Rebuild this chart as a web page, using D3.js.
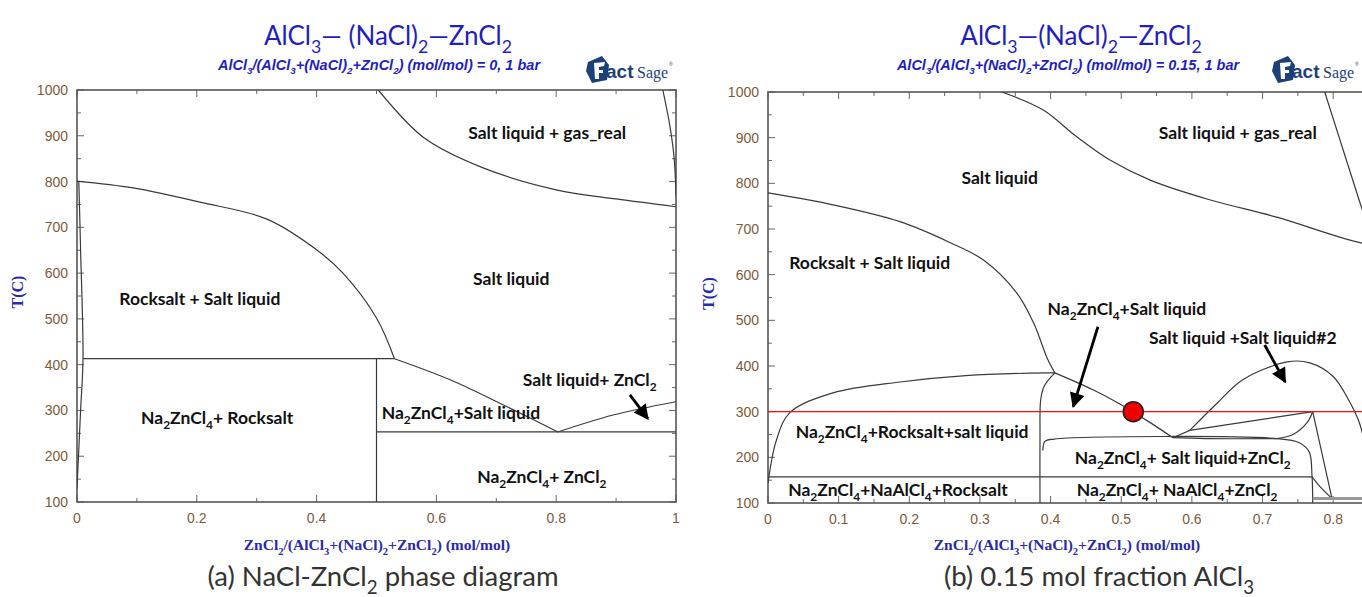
<!DOCTYPE html>
<html>
<head>
<meta charset="utf-8">
<script src="https://cdn.jsdelivr.net/npm/d3@7"></script>
<style>
  body { margin: 0; background: #fff; }
  svg { display: block; }
</style>
</head>
<body>
<svg id="chart" width="1362" height="597"></svg>
<script>
// ---- data: phase boundaries as [ZnCl2 fraction, T(C)] ----

// (a) NaCl-ZnCl2, AlCl3 = 0
const leftLiquidusNaCl = [[0, 801], [0.094, 786], [0.205, 755], [0.317, 718], [0.40, 651], [0.444, 600], [0.50, 502], [0.53, 413]];
const leftLiquidusNa2ZnCl4 = [[0.53, 413], [0.623, 367], [0.718, 308], [0.803, 253]];
const leftLiquidusZnCl2 = [[0.803, 253], [0.895, 290], [1, 319]];
const leftGasBoundary = [[0.503, 1000], [0.578, 897], [0.678, 830], [0.80, 782], [0.9, 762], [1, 745]];
const leftGasEdge = [[0.978, 1000], [0.99, 920], [0.997, 850], [1, 770]];
const leftSolvus = [[0.003, 801], [0.006, 650], [0.01, 413], [0.006, 300], [0, 130]];
const leftEutectic = [[0.01, 413], [0.53, 413]];
const leftCompound = [[0.5, 413], [0.5, 100]];
const leftEutectic2 = [[0.5, 253], [1, 253]];

// (b) AlCl3 = 0.15
const rightLiquidusNaCl = [[0, 779], [0.092, 753], [0.187, 716], [0.258, 670], [0.305, 632], [0.352, 560], [0.376, 494], [0.396, 414], [0.406, 385]];
const rightSolvus = [[0, 144], [0.012, 238], [0.031, 298], [0.092, 341], [0.187, 365], [0.28, 379], [0.395, 385], [0.406, 385]];
const rightLiquidusNa2ZnCl4 = [[0.406, 385], [0.46, 348], [0.498, 317], [0.541, 276], [0.573, 243]];
const rightCompoundEdge = [[0.406, 385], [0.391, 356], [0.386, 326], [0.385, 250], [0.385, 100]];
const rightInnerBox = [[0.389, 215], [0.392, 235], [0.405, 240], [0.72, 241], [0.752, 232], [0.766, 212], [0.770, 160], [0.771, 100]];
const rightBoxTail = [[0.770, 157], [0.78, 138], [0.798, 110]];
const rightEutecticLow = [[0, 157], [0.77, 157]];
const rightWedge = [[0.573, 243], [0.597, 259], [0.771, 300]];
const rightBoxTopLeft = [[0.573, 243], [0.62, 241], [0.72, 241]];
const rightWedgeCurve = [[0.771, 300], [0.763, 276], [0.743, 250], [0.72, 241]];
const rightPeritectic = [[0.771, 300], [0.798, 112]];
const rightMiscGap = [[0.597, 259], [0.636, 319], [0.672, 370], [0.735, 409], [0.767, 407], [0.80, 377], [0.822, 325], [0.836, 280], [0.843, 240], [0.846, 180], [0.847, 100]];
const rightBottomBand = [[0.771, 110], [0.9, 110]];
const rightGasBoundary = [[0.331, 1000], [0.389, 961], [0.437, 902], [0.484, 851], [0.541, 807], [0.625, 764], [0.72, 726], [0.838, 670], [0.95, 640]];
const rightGasEdge = [[0.788, 1000], [0.838, 757], [0.87, 610]];
const isotherm = 300;
const markerPoint = [0.517, 300];

// region labels: [x, T, text]
const leftLabels = [
  [0.785, 906, "Salt liquid + gas_real"],
  [0.725, 587, "Salt liquid"],
  [0.205, 544, "Rocksalt + Salt liquid"],
  [0.234, 284, "Na_2ZnCl_4+ Rocksalt"],
  [0.641, 295, "Na_2ZnCl_4+Salt liquid"],
  [0.856, 367, "Salt liquid+ ZnCl_2"],
  [0.776, 155, "Na_2ZnCl_4+ ZnCl_2"]
];
const rightLabels = [
  [0.328, 812, "Salt liquid"],
  [0.665, 910, "Salt liquid + gas_real"],
  [0.144, 626, "Rocksalt + Salt liquid"],
  [0.508, 525, "Na_2ZnCl_4+Salt liquid"],
  [0.672, 462, "Salt liquid +Salt liquid#2"],
  [0.204, 256, "Na_2ZnCl_4+Rocksalt+salt liquid"],
  [0.184, 129, "Na_2ZnCl_4+NaAlCl_4+Rocksalt"],
  [0.587, 199, "Na_2ZnCl_4+ Salt liquid+ZnCl_2"],
  [0.579, 129, "Na_2ZnCl_4+ NaAlCl_4+ZnCl_2"]
];
// arrows: [[x0, T0], [x1, T1]]
const leftArrows = [[[0.923, 334], [0.953, 282]]];
const rightArrows = [[[0.467, 486], [0.432, 311]], [[0.703, 446], [0.732, 365]]];

const yTicks = [100, 200, 300, 400, 500, 600, 700, 800, 900, 1000];

// ---- drawing ----
const svg = d3.select("#chart");
const W = 1362;
const blue = "#1f1fbf";

svg.append("defs").append("marker")
  .attr("id", "head")
  .attr("viewBox", "0 0 10 10")
  .attr("refX", 9).attr("refY", 5)
  .attr("markerUnits", "userSpaceOnUse")
  .attr("markerWidth", 17).attr("markerHeight", 15)
  .attr("orient", "auto")
  .append("path").attr("d", "M0,0 L10,5 L0,10 z").attr("fill", "#000");

// text with _n subscripts, size = parent font size in px
function rich(sel, str, size) {
  const parts = str.split(/_(\d)/);
  let shift = 0;
  parts.forEach((p, i) => {
    if (p === "") return;
    const sub = i % 2 === 1;
    const target = sub ? size * 0.3 : 0;
    const ts = sel.append("tspan").text(p);
    if (target !== shift) ts.attr("dy", target - shift);
    if (sub) ts.attr("font-size", size * 0.68);
    shift = target;
  });
}

function panel(opt) {
  const x = d3.scaleLinear().domain([0, 1]).range([opt.left, opt.right]);
  const y = d3.scaleLinear().domain([100, 1000]).range([opt.bottom, opt.top]);
  const g = svg.append("g");
  const clipId = "clip" + opt.id;
  svg.select("defs").append("clipPath").attr("id", clipId)
    .append("rect").attr("x", opt.left).attr("y", opt.top)
    .attr("width", opt.right - opt.left).attr("height", opt.bottom - opt.top);

  // ticks
  const tk = g.append("g").attr("stroke", "#666").attr("stroke-width", 1);
  d3.range(0, 1.0001, opt.minor).forEach(v => {
    const major = Math.abs(v / opt.major - Math.round(v / opt.major)) < 1e-6;
    const len = major ? 7 : 4;
    tk.append("line").attr("x1", x(v)).attr("x2", x(v)).attr("y1", opt.bottom).attr("y2", opt.bottom - len);
    tk.append("line").attr("x1", x(v)).attr("x2", x(v)).attr("y1", opt.top).attr("y2", opt.top + len);
  });
  d3.range(100, 1001, 50).forEach(v => {
    const len = v % 100 === 0 ? 7 : 4;
    tk.append("line").attr("x1", opt.left).attr("x2", opt.left + len).attr("y1", y(v)).attr("y2", y(v));
    tk.append("line").attr("x1", opt.right).attr("x2", opt.right - len).attr("y1", y(v)).attr("y2", y(v));
  });

  // frame
  g.append("rect").attr("x", opt.left).attr("y", opt.top)
    .attr("width", opt.right - opt.left).attr("height", opt.bottom - opt.top)
    .attr("fill", "none").attr("stroke", "#555").attr("stroke-width", 1.6);

  // tick labels
  const tl = g.append("g").attr("font-family", "Liberation Sans, Arial, sans-serif")
    .attr("font-size", 14).attr("fill", "#7d5a3c");
  yTicks.forEach(v => {
    tl.append("text").attr("x", opt.left - 9).attr("y", y(v) + 5)
      .attr("text-anchor", "end").text(v);
  });
  d3.range(0, 1.0001, opt.major).filter(v => x(v) < W - 15).forEach(v => {
    tl.append("text").attr("x", x(v)).attr("y", opt.bottom + 21)
      .attr("text-anchor", "middle").text(d3.format("~g")(+v.toFixed(2)));
  });

  // boundaries
  const body = g.append("g").attr("clip-path", `url(#${clipId})`);
  const smooth = d3.line().x(d => x(d[0])).y(d => y(d[1])).curve(d3.curveCatmullRom.alpha(0.5));
  const straight = d3.line().x(d => x(d[0])).y(d => y(d[1]));
  opt.curves.forEach(c => {
    body.append("path").attr("d", smooth(c)).attr("fill", "none")
      .attr("stroke", "#3a3a3a").attr("stroke-width", 1.2);
  });
  opt.lines.forEach(c => {
    body.append("path").attr("d", straight(c)).attr("fill", "none")
      .attr("stroke", "#3a3a3a").attr("stroke-width", 1.2);
  });
  if (opt.extra) opt.extra(body, x, y, straight);

  // labels
  const lb = g.append("g").attr("font-family", "Lato, 'Open Sans', sans-serif")
    .attr("font-weight", "bold").attr("font-size", 17.5).attr("fill", "#111")
    .attr("text-anchor", "middle");
  opt.labels.forEach(d => {
    const t = lb.append("text").attr("x", x(d[0])).attr("y", y(d[1]) + 6);
    rich(t, d[2], 17.5);
  });

  // arrows
  opt.arrows.forEach(a => {
    g.append("line").attr("x1", x(a[0][0])).attr("y1", y(a[0][1]))
      .attr("x2", x(a[1][0])).attr("y2", y(a[1][1]))
      .attr("stroke", "#000").attr("stroke-width", 2.8).attr("marker-end", "url(#head)");
  });

  // axis titles
  const xt = g.append("text").attr("x", opt.xTitleX).attr("y", 550)
    .attr("text-anchor", "middle").attr("font-family", "Liberation Serif, Times New Roman, serif")
    .attr("font-weight", "bold").attr("font-size", 15.5).attr("fill", "#2a2aa8");
  rich(xt, "ZnCl_2/(AlCl_3+(NaCl)_2+ZnCl_2) (mol/mol)", 15.5);
  g.append("text").attr("transform", `translate(${opt.left - 54},${(opt.top + opt.bottom) / 2 - 4}) rotate(-90)`)
    .attr("text-anchor", "middle").attr("font-family", "Liberation Serif, Times New Roman, serif")
    .attr("font-weight", "bold").attr("font-size", 16).attr("fill", "#2a2aa8").text("T(C)");

  // titles
  const tt = g.append("text").attr("x", opt.titleX).attr("y", 45).attr("text-anchor", "middle")
    .attr("font-family", "Lato, 'Open Sans', sans-serif").attr("font-size", 26).attr("fill", blue);
  rich(tt, opt.title, 26);
  const st = g.append("text").attr("x", opt.subX).attr("y", 70).attr("text-anchor", "middle")
    .attr("font-family", "Liberation Sans Narrow, Arial Narrow, Arial, sans-serif")
    .attr("font-style", "italic").attr("font-weight", "bold").attr("font-size", 14.5).attr("fill", blue);
  rich(st, opt.subtitle, 14.5);

  // FactSage logo
  const lg = g.append("g").attr("transform", `translate(${opt.logoX},55)`);
  lg.append("path").attr("d", "M2,7 L16,1 L23,10 L21,25 L6,28 L0,16 Z").attr("fill", "#1d3f7a");
  lg.append("path").attr("d", "M8,8 L19,7 L18,11 L13,12 L13,15 L17,15 L17,18 L13,18 L13,24 L9,24 Z").attr("fill", "#fff");
  lg.append("text").attr("x", 20).attr("y", 23).attr("font-family", "Liberation Sans, Arial, sans-serif")
    .attr("font-weight", "bold").attr("font-size", 19).attr("fill", "#1d3f7a").text("act");
  lg.append("text").attr("x", 51).attr("y", 23).attr("font-family", "Liberation Serif, serif")
    .attr("font-size", 16).attr("fill", "#1d3f7a").text("Sage");
  lg.append("text").attr("x", 83).attr("y", 11).attr("font-family", "Liberation Sans, Arial, sans-serif")
    .attr("font-size", 5).attr("fill", "#1d3f7a").text("\u00ae");

  // caption
  const cp = g.append("text").attr("x", opt.capX).attr("y", 586).attr("text-anchor", "middle")
    .attr("font-family", "Lato, 'Open Sans', sans-serif").attr("font-size", 27.5).attr("fill", "#333");
  rich(cp, opt.caption, 27.5);
}

panel({
  id: "a", left: 77, right: 676, top: 90, bottom: 502, major: 0.2, minor: 0.1,
  curves: [leftLiquidusNaCl, leftLiquidusNa2ZnCl4, leftLiquidusZnCl2, leftGasBoundary, leftGasEdge, leftSolvus],
  lines: [leftEutectic, leftCompound, leftEutectic2],
  labels: leftLabels, arrows: leftArrows,
  xTitleX: 377, titleX: 388, subX: 379, logoX: 586, capX: 383,
  title: "AlCl_3\u2014 (NaCl)_2\u2014ZnCl_2",
  subtitle: "AlCl_3/(AlCl_3+(NaCl)_2+ZnCl_2) (mol/mol) = 0, 1 bar",
  caption: "(a) NaCl-ZnCl_2 phase diagram"
});

panel({
  id: "b", left: 768, right: 1474.5, top: 92, bottom: 503, major: 0.1, minor: 0.05,
  curves: [rightLiquidusNaCl, rightSolvus, rightLiquidusNa2ZnCl4, rightCompoundEdge, rightInnerBox, rightBoxTail,
           rightWedgeCurve, rightMiscGap, rightGasBoundary, rightBoxTopLeft],
  lines: [rightEutecticLow, rightWedge, rightPeritectic, rightGasEdge],
  labels: rightLabels, arrows: rightArrows,
  xTitleX: 1067, titleX: 1081, subX: 1068, logoX: 1272, capX: 1099,
  title: "AlCl_3\u2014(NaCl)_2\u2014ZnCl_2",
  subtitle: "AlCl_3/(AlCl_3+(NaCl)_2+ZnCl_2) (mol/mol) = 0.15, 1 bar",
  caption: "(b) 0.15 mol fraction AlCl_3",
  extra: (body, x, y, straight) => {
    body.append("path").attr("d", straight(rightBottomBand)).attr("fill", "none")
      .attr("stroke", "#999").attr("stroke-width", 3);
    body.append("line").attr("x1", x(0)).attr("x2", x(1)).attr("y1", y(isotherm)).attr("y2", y(isotherm))
      .attr("stroke", "#ee1111").attr("stroke-width", 1.4);
    body.append("circle").attr("cx", x(markerPoint[0])).attr("cy", y(markerPoint[1])).attr("r", 10)
      .attr("fill", "#ee0000").attr("stroke", "#222").attr("stroke-width", 1.5);
  }
});
</script>
</body>
</html>
